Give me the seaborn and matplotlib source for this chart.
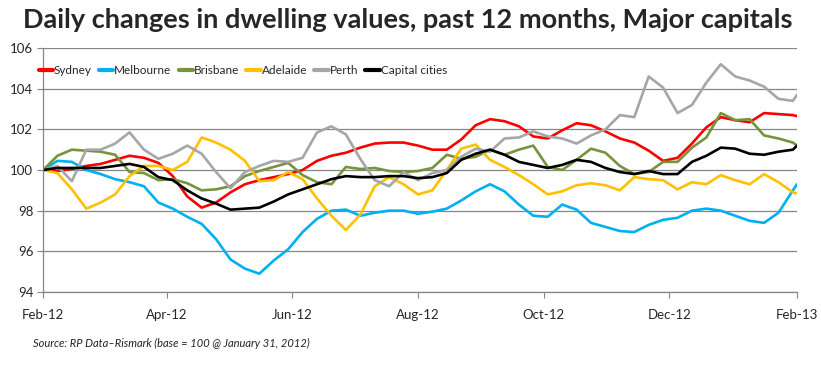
"""
Daily changes in dwelling values, past 12 months, major capitals.
"""

import numpy as np
import pandas as pd
import seaborn as sns
import matplotlib.pyplot as plt
import matplotlib.dates as mdates

# weekly readings from 1 Feb 2012, plus the last day (1 Feb 2013)
dates = list(pd.date_range("2012-02-01", periods=53, freq="7D")) + [pd.Timestamp("2013-02-01")]

sydney = [100.0, 99.95, 100.05, 100.2, 100.3, 100.5, 100.7, 100.6, 100.35, 99.7, 98.7, 98.15, 98.4, 98.9,
          99.3, 99.5, 99.65, 99.8, 100.0, 100.45, 100.7, 100.85, 101.1, 101.3, 101.35, 101.35, 101.2,
          101.0, 101.0, 101.5, 102.2, 102.5, 102.4, 102.15, 101.65, 101.55, 101.95, 102.3, 102.2, 101.9,
          101.55, 101.35, 100.95, 100.45, 100.6, 101.3, 102.1, 102.6, 102.45, 102.35, 102.8, 102.75, 102.7,
          102.65]
melbourne = [100.0, 100.45, 100.4, 100.0, 99.8, 99.55, 99.4, 99.2, 98.4, 98.1, 97.7, 97.35, 96.6, 95.6,
             95.15, 94.9, 95.55, 96.1, 96.95, 97.6, 98.0, 98.05, 97.75, 97.9, 98.0, 98.0, 97.85,
             97.95, 98.1, 98.5, 98.95, 99.3, 98.95, 98.3, 97.75, 97.7, 98.3, 98.05, 97.4, 97.2,
             97.0, 96.95, 97.3, 97.55, 97.65, 98.0, 98.1, 98.0, 97.75, 97.5, 97.4, 97.9, 99.0,
             99.3]
brisbane = [100.0, 100.7, 101.0, 100.95, 100.9, 100.75, 99.9, 99.85, 99.5, 99.55, 99.35, 99.0, 99.05, 99.2,
            99.7, 99.95, 100.15, 100.35, 99.75, 99.4, 99.3, 100.15, 100.05, 100.1, 99.95, 99.9, 99.95,
            100.1, 100.75, 100.55, 100.65, 101.0, 100.75, 101.0, 101.2, 100.15, 100.0, 100.5, 101.05, 100.85,
            100.2, 99.8, 99.9, 100.4, 100.4, 101.1, 101.6, 102.8, 102.45, 102.5, 101.7, 101.55, 101.35,
            101.2]
adelaide = [100.0, 99.85, 99.05, 98.1, 98.4, 98.8, 99.7, 100.2, 100.2, 100.0, 100.4, 101.6, 101.35, 101.0,
            100.45, 99.45, 99.5, 99.9, 99.55, 98.6, 97.75, 97.05, 97.8, 99.2, 99.65, 99.3, 98.8,
            99.0, 100.0, 101.05, 101.25, 100.5, 100.15, 99.75, 99.3, 98.8, 98.95, 99.25, 99.35, 99.25,
            99.0, 99.65, 99.55, 99.5, 99.05, 99.4, 99.3, 99.75, 99.5, 99.3, 99.8, 99.4, 98.9,
            98.85]
perth = [100.0, 100.2, 99.45, 101.0, 101.0, 101.3, 101.85, 101.0, 100.55, 100.8, 101.2, 100.8, 99.9, 99.1,
         99.9, 100.2, 100.45, 100.4, 100.6, 101.85, 102.15, 101.75, 100.55, 99.5, 99.2, 99.9, 99.5,
         99.85, 100.0, 100.65, 101.05, 100.9, 101.55, 101.6, 101.9, 101.65, 101.55, 101.3, 101.7, 102.0,
         102.7, 102.6, 104.6, 104.05, 102.8, 103.2, 104.3, 105.2, 104.6, 104.4, 104.1, 103.5, 103.4,
         103.7]
capitals = [100.0, 100.1, 100.1, 100.1, 100.1, 100.2, 100.3, 100.15, 99.65, 99.5, 99.0, 98.6, 98.35, 98.05,
            98.1, 98.15, 98.45, 98.8, 99.05, 99.3, 99.55, 99.7, 99.65, 99.65, 99.7, 99.7, 99.6,
            99.65, 99.85, 100.5, 100.8, 101.0, 100.75, 100.4, 100.25, 100.1, 100.25, 100.5, 100.4, 100.1,
            99.9, 99.8, 99.95, 99.8, 99.8, 100.4, 100.7, 101.1, 101.05, 100.8, 100.75, 100.9, 101.0,
            101.2]

cities = ["Sydney", "Melbourne", "Brisbane", "Adelaide", "Perth", "Capital cities"]
colors = ["#FF0000", "#00B0F0", "#77933C", "#FFC000", "#A6A6A6", "#000000"]
series = [sydney, melbourne, brisbane, adelaide, perth, capitals]


def main():
    df = pd.concat(
        [pd.DataFrame({"Date": dates, "Index": vals, "City": name}) for name, vals in zip(cities, series)],
        ignore_index=True,
    )

    sns.set_style("white")
    plt.rcParams["font.family"] = ["Lato", "DejaVu Sans"]

    fig = plt.figure(figsize=(8.21, 3.75), dpi=100)
    ax = fig.add_axes([0.0524, 0.2213, 0.9184, 0.6507])

    sns.lineplot(data=df, x="Date", y="Index", hue="City", hue_order=cities,
                 palette=dict(zip(cities, colors)), linewidth=1.9, ax=ax)

    ax.set_xlim(pd.Timestamp("2012-02-01"), pd.Timestamp("2013-02-01"))
    ax.set_ylim(94, 106)
    ax.set_yticks(np.arange(94, 107, 2))
    ax.xaxis.set_major_locator(mdates.MonthLocator(bymonth=[2, 4, 6, 8, 10, 12]))
    ax.xaxis.set_major_formatter(mdates.DateFormatter("%b-%y"))
    ax.grid(axis="y", color="#868686", linewidth=0.9)
    ax.set_axisbelow(True)
    ax.set_xlabel("")
    ax.set_ylabel("")

    for side in ["top", "right"]:
        ax.spines[side].set_visible(False)
    for side in ["left", "bottom"]:
        ax.spines[side].set_color("#868686")
        ax.spines[side].set_linewidth(0.9)

    ax.tick_params(axis="x", direction="out", length=4, color="#868686", labelsize=9.5, pad=8)
    ax.tick_params(axis="y", direction="out", length=4, color="#868686", labelsize=9.5, pad=3)
    ax.tick_params(axis="x", bottom=True)
    ax.tick_params(axis="y", left=True)

    handles, labels = ax.get_legend_handles_labels()
    for h in handles:
        h.set_linewidth(3)
    ax.legend(handles, labels, loc="center left", bbox_to_anchor=(-0.012, 0.907), ncol=6,
              frameon=False, fontsize=8.5, handlelength=1.2, handletextpad=0.1,
              columnspacing=0.6, borderaxespad=0)

    fig.text(0.497, 0.947, "Daily changes in dwelling values, past 12 months, Major capitals",
             ha="center", va="center", fontsize=19.5, fontweight="bold")
    fig.text(0.04, 0.085, "Source: RP Data\u2013Rismark (base = 100 @ January 31, 2012)",
             ha="left", va="center", fontsize=8, style="italic", color="#222222")

    plt.savefig("out.png", dpi=100)


if __name__ == "__main__":
    main()
